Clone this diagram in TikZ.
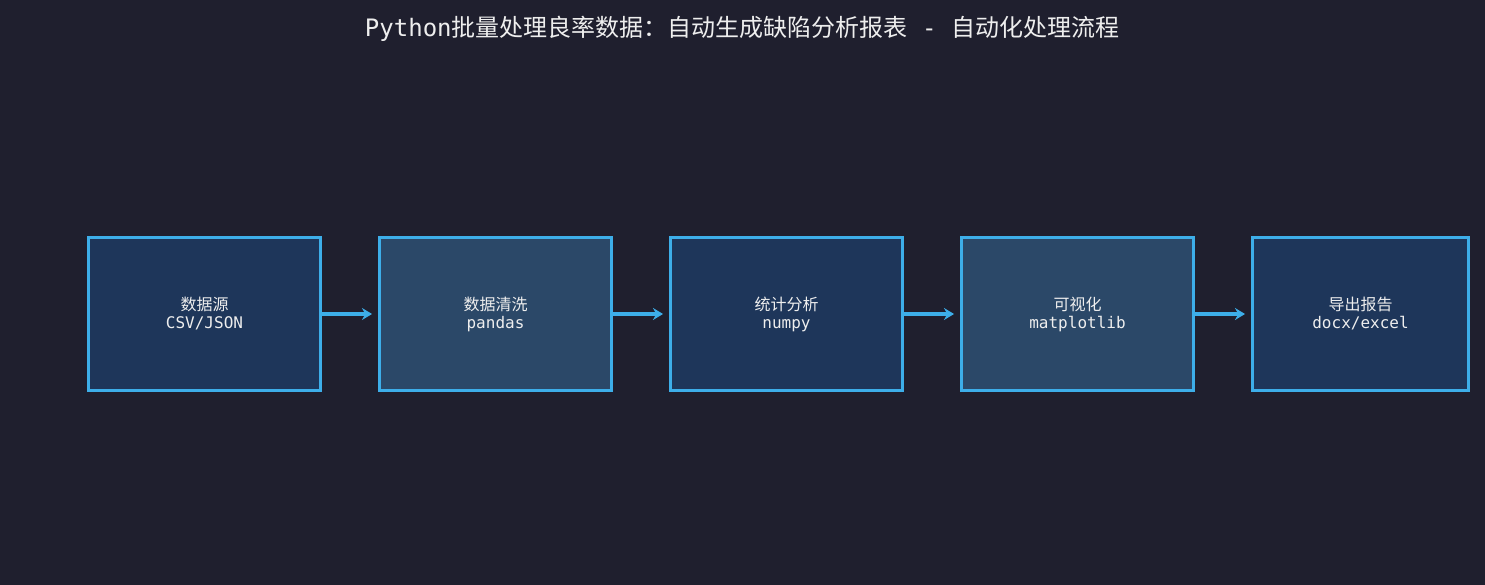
\documentclass[tikz,border=0pt]{standalone}
\usetikzlibrary{arrows.meta}
\usepackage{fontspec}
\setmainfont{DejaVu Sans Mono}
\newfontfamily\cjk{Noto Sans CJK SC}
\definecolor{bg}{HTML}{1F1F2E}
\definecolor{fa}{HTML}{1E365A}
\definecolor{fb}{HTML}{2B4868}
\definecolor{edge}{HTML}{3DAEE9}
\definecolor{txt}{HTML}{EEEEEE}
\begin{document}
\begin{tikzpicture}[x=1pt,y=-1pt,
  box/.style={draw=edge,line width=3pt,minimum width=232pt,minimum height=153pt,inner sep=0pt,text=txt,align=center,font=\fontsize{16}{18}\selectfont},
  arr/.style={draw=edge,line width=3.5pt,-{Stealth[length=10pt,width=12pt]}}]
\fill[bg] (0,0) rectangle (1485,585);
\useasboundingbox (0,0) rectangle (1485,585);
\node[text=txt,font=\fontsize{24}{26}\selectfont] (t) at (742,29) {Python{\cjk 批量处理良率数据：自动生成缺陷分析报表} - {\cjk 自动化处理流程}};
\node[box,fill=fa] (a) at (204.5,314) {{\cjk 数据源}\\CSV/JSON};
\node[box,fill=fb] (b) at (495.5,314) {{\cjk 数据清洗}\\pandas};
\node[box,fill=fa] (c) at (786.5,314) {{\cjk 统计分析}\\numpy};
\node[box,fill=fb] (d) at (1077.5,314) {{\cjk 可视化}\\matplotlib};
\node[box,fill=fa,minimum width=216pt] (e) at (1360.5,314) {{\cjk 导出报告}\\docx/excel};
\draw[arr] (a.east) -- ([xshift=-6pt]b.west);
\draw[arr] (b.east) -- ([xshift=-6pt]c.west);
\draw[arr] (c.east) -- ([xshift=-6pt]d.west);
\draw[arr] (d.east) -- ([xshift=-6pt]e.west);
\end{tikzpicture}
\end{document}
